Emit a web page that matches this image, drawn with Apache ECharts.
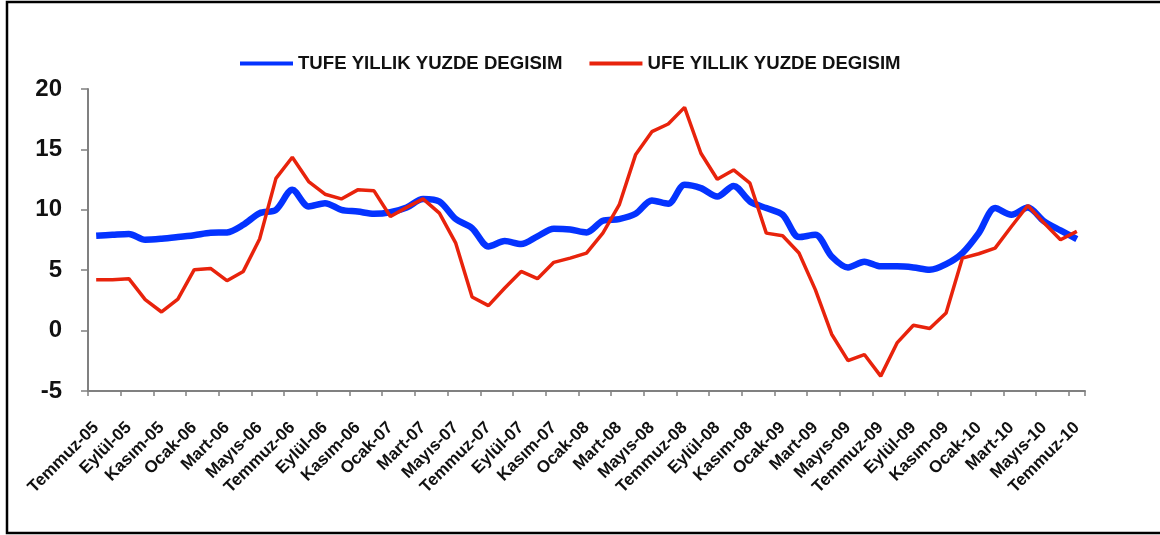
<!DOCTYPE html>
<html>
<head>
<meta charset="utf-8">
<script src="https://cdn.jsdelivr.net/npm/echarts@6/dist/echarts.min.js"></script>
<style>
html,body{margin:0;padding:0;background:#fff;}
#chart{width:1160px;height:535px;}
</style>
</head>
<body>
<div id="chart"></div>
<script>
const monthNames = ["Ocak","Şubat","Mart","Nisan","Mayıs","Haziran","Temmuz","Ağustos","Eylül","Ekim","Kasım","Aralık"];
const categories = [];
for (let i = 0; i < 61; i++) {
  const m = (6 + i) % 12;
  const year = 2005 + Math.floor((6 + i) / 12);
  categories.push(monthNames[m] + "-" + String(year).slice(2));
}

const tufeName = "TUFE YILLIK YUZDE DEGISIM";
const ufeName = "UFE YILLIK YUZDE DEGISIM";

const tufe = [7.85, 7.93, 8.0, 7.52, 7.6, 7.74, 7.9, 8.1, 8.13, 8.76, 9.72, 10.0, 11.65,
  10.28, 10.55, 10.0, 9.86, 9.67, 9.8, 10.19, 10.9, 10.69, 9.23, 8.48, 6.97,
  7.41, 7.16, 7.8, 8.43, 8.37, 8.13, 9.09, 9.23, 9.67, 10.77, 10.5, 12.07,
  11.79, 11.1, 11.98, 10.69, 10.14, 9.59, 7.74, 7.93, 6.14, 5.23, 5.7, 5.32,
  5.32, 5.23, 5.04, 5.5, 6.42, 8.07, 10.14, 9.59, 10.19, 9.04, 8.29, 7.58];

const ufe = [4.21, 4.21, 4.3, 2.56, 1.54, 2.6, 5.04, 5.15, 4.13, 4.9, 7.58, 12.6, 14.35,
  12.34, 11.29, 10.9, 11.65, 11.57, 9.45, 10.2, 10.9, 9.72, 7.24, 2.78, 2.07,
  3.53, 4.9, 4.3, 5.65, 6.0, 6.42, 8.07, 10.4, 14.55, 16.47, 17.1, 18.48,
  14.68, 12.53, 13.3, 12.2, 8.07, 7.85, 6.42, 3.39, -0.3, -2.48, -1.98, -3.77,
  -1.02, 0.44, 0.17, 1.46, 6.0, 6.36, 6.83, 8.62, 10.36, 8.9, 7.52, 8.21];

const yMin = -5, yMax = 20, yStep = 5;

const FONT = "'Liberation Sans', Arial, sans-serif";
const chart = echarts.init(document.getElementById('chart'), null, {renderer: 'canvas'});
chart.setOption({
  animation: false,
  backgroundColor: '#ffffff',
  graphic: [{
    type: 'rect',
    shape: {x: 7, y: 2, width: 1200, height: 531},
    style: {fill: 'none', stroke: '#000', lineWidth: 2.5},
    silent: true
  }],
  legend: {
    left: 240,
    top: 54,
    padding: 0,
    itemWidth: 53,
    itemHeight: 4,
    itemGap: 27,
    icon: 'rect',
    data: [tufeName, ufeName],
    textStyle: {fontFamily: FONT, fontSize: 18.6, fontWeight: 'bold', color: '#111'}
  },
  grid: {left: 88, right: 75, top: 89, bottom: 144, containLabel: false},
  xAxis: {
    type: 'category',
    data: categories,
    boundaryGap: true,
    axisLine: {onZero: false, lineStyle: {color: '#808080', width: 2}},
    axisTick: {show: true, interval: 1, length: 5, lineStyle: {color: '#808080', width: 1.5}},
    axisLabel: {
      interval: 1, rotate: 45, margin: 34,
      fontFamily: FONT, fontSize: 17, fontWeight: 'bold', color: '#111'
    },
    splitLine: {show: false}
  },
  yAxis: {
    type: 'value',
    min: yMin, max: yMax, interval: yStep,
    axisLine: {show: true, lineStyle: {color: '#808080', width: 2}},
    axisTick: {show: true, length: 7, lineStyle: {color: '#808080', width: 1.5}},
    axisLabel: {margin: 26, padding: [6, 0, 0, 0], fontFamily: FONT, fontSize: 24, fontWeight: 'bold', color: '#111'},
    splitLine: {show: false}
  },
  series: [{
    name: tufeName,
    type: 'line',
    data: tufe,
    smooth: 0.3,
    symbol: 'none',
    lineStyle: {color: '#0433ff', width: 6.5},
    itemStyle: {color: '#0433ff'}
  }, {
    name: ufeName,
    type: 'line',
    data: ufe,
    symbol: 'none',
    lineStyle: {color: '#e8230c', width: 3.5},
    itemStyle: {color: '#e8230c'}
  }]
});
</script>
</body>
</html>
